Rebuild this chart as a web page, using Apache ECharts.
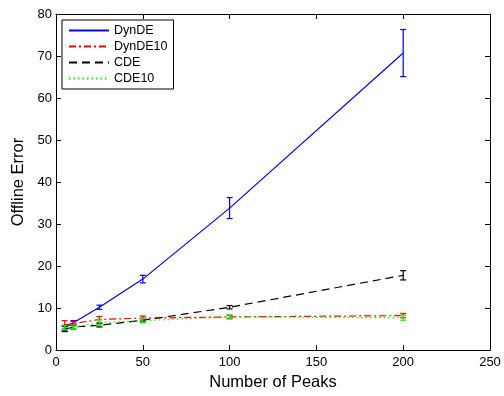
<!DOCTYPE html>
<html>
<head>
<meta charset="utf-8">
<script src="https://cdn.jsdelivr.net/npm/echarts@6/dist/echarts.min.js"></script>
<style>
  html, body { margin: 0; padding: 0; background: #fff; }
  #chart { width: 504px; height: 396px; }
</style>
</head>
<body>
<div id="chart"></div>
<script>
// data
const peaks = [5, 10, 25, 50, 100, 200];

const dynde = [5.3, 6.5, 10.2, 16.9, 33.8, 70.7];
const dyndeErr = [0.6, 0.5, 0.5, 0.9, 2.5, 5.6];

const dynde10 = [6.0, 6.3, 7.3, 7.6, 7.9, 8.2];
const dynde10Err = [1.0, 0.5, 0.7, 0.5, 0.4, 0.5];

const cde = [5.0, 5.5, 5.9, 7.1, 10.2, 17.8];
const cdeErr = [0.6, 0.5, 0.4, 0.4, 0.4, 1.1];

const cde10 = [5.3, 5.5, 6.5, 7.0, 7.9, 7.7];
const cde10Err = [0.5, 0.5, 0.7, 0.5, 0.5, 0.6];

const xTicks = [0, 50, 100, 150, 200, 250];
const yTicks = [0, 10, 20, 30, 40, 50, 60, 70, 80];

const font = "Liberation Sans, Arial, Helvetica, sans-serif";
const chart = echarts.init(document.getElementById("chart"));

function pairs(vals) {
  return peaks.map((x, i) => [x, vals[i]]);
}

function errorSeries(name, vals, errs, color, z) {
  return {
    type: "custom",
    name: name,
    z: z,
    silent: true,
    data: peaks.map((x, i) => [x, vals[i] - errs[i], vals[i] + errs[i]]),
    renderItem: function (params, api) {
      const lo = api.coord([api.value(0), api.value(1)]);
      const hi = api.coord([api.value(0), api.value(2)]);
      const w = 3;
      const style = { stroke: color, lineWidth: 1.2 };
      return {
        type: "group",
        children: [
          { type: "line", shape: { x1: lo[0], y1: lo[1], x2: hi[0], y2: hi[1] }, style: style },
          { type: "line", shape: { x1: lo[0] - w, y1: lo[1], x2: lo[0] + w, y2: lo[1] }, style: style },
          { type: "line", shape: { x1: hi[0] - w, y1: hi[1], x2: hi[0] + w, y2: hi[1] }, style: style },
        ],
      };
    },
  };
}

function lineSeries(name, vals, color, type, z) {
  return {
    type: "line",
    name: name,
    data: pairs(vals),
    symbol: "none",
    z: z,
    lineStyle: { color: color, width: 1.2, type: type },
    itemStyle: { color: color },
  };
}

const axisCommon = {
  min: 0,
  axisLine: { show: true, onZero: false, lineStyle: { color: "#000", width: 1 } },
  axisTick: { show: true, inside: true, length: 5, lineStyle: { color: "#000" } },
  splitLine: { show: false },
};

const option = {
  animation: false,
  backgroundColor: "#fff",
  grid: { left: 56, top: 14, right: 14, bottom: 40 },
  legend: {
    left: 62,
    top: 20,
    orient: "vertical",
    backgroundColor: "#fff",
    borderColor: "#000",
    borderWidth: 1,
    borderRadius: 0,
    padding: [4, 6, 4, 6],
    itemGap: 3,
    itemWidth: 40,
    itemHeight: 13,
    itemStyle: { opacity: 0 },
    textStyle: { fontFamily: font, fontSize: 12.5, color: "#000" },
    data: ["DynDE", "DynDE10", "CDE", "CDE10"],
  },
  xAxis: [
    Object.assign({}, axisCommon, {
      type: "value",
      max: 250,
      interval: 50,
      name: "Number of Peaks",
      nameLocation: "middle",
      nameGap: 21,
      nameTextStyle: { fontFamily: font, fontSize: 16.5, color: "#000" },
      axisLabel: { fontFamily: font, fontSize: 13, color: "#000", margin: 6,
        formatter: v => xTicks.includes(v) ? String(v) : "" },
    }),
    Object.assign({}, axisCommon, {
      type: "value", position: "top", max: 250, interval: 50,
      axisLabel: { show: false },
    }),
  ],
  yAxis: [
    Object.assign({}, axisCommon, {
      type: "value",
      max: 80,
      interval: 10,
      name: "Offline Error",
      nameLocation: "middle",
      nameGap: 27,
      nameTextStyle: { fontFamily: font, fontSize: 16.5, color: "#000" },
      axisLabel: { fontFamily: font, fontSize: 13, color: "#000", margin: 4,
        formatter: v => yTicks.includes(v) ? String(v) : "" },
    }),
    Object.assign({}, axisCommon, {
      type: "value", position: "right", max: 80, interval: 10,
      axisLabel: { show: false },
    }),
  ],
  series: [
    lineSeries("DynDE", dynde, "#0000ff", "solid", 2),
    errorSeries("DynDE", dynde, dyndeErr, "#0000ff", 2),
    lineSeries("DynDE10", dynde10, "#ff0000", [7, 3, 2, 3], 3),
    errorSeries("DynDE10", dynde10, dynde10Err, "#ff0000", 3),
    lineSeries("CDE", cde, "#000000", [8, 5], 4),
    errorSeries("CDE", cde, cdeErr, "#000000", 4),
    lineSeries("CDE10", cde10, "#00ff00", [1.5, 3], 5),
    errorSeries("CDE10", cde10, cde10Err, "#00ff00", 5),
  ],
};

chart.setOption(option);
</script>
</body>
</html>
